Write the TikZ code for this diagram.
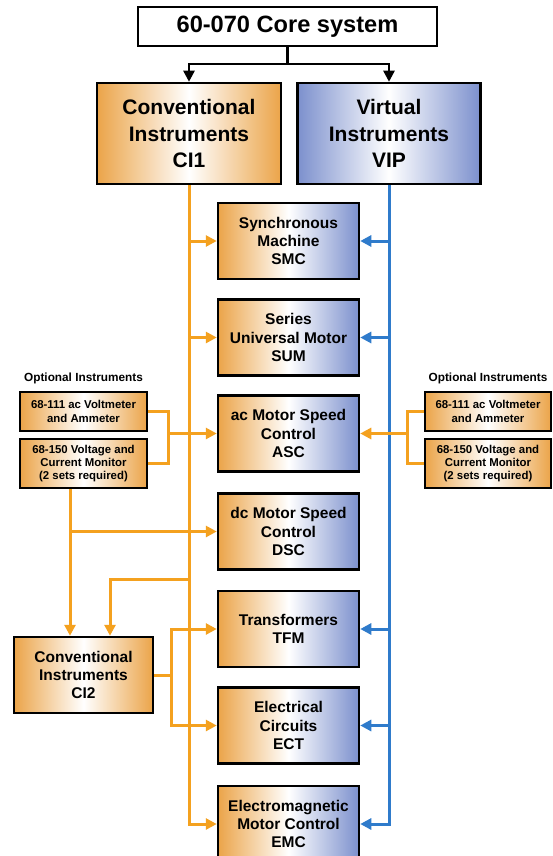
\documentclass[tikz,border=0pt]{standalone}
\usepackage{fontspec}
\setmainfont{Liberation Sans}
\usetikzlibrary{arrows.meta}
\definecolor{ob}{HTML}{EBA449}
\definecolor{bb}{HTML}{7C90CD}
\definecolor{ol}{HTML}{F4A11F}
\definecolor{bl}{HTML}{2F7BCB}
\begin{document}
\begin{tikzpicture}[x=1pt,y=-1pt,
  box/.style={draw=black, line width=2.5pt, align=center, inner sep=0pt},
  obox/.style={box, left color=ob, right color=ob, middle color=white},
  bbox/.style={box, left color=bb, right color=bb, middle color=white},
  mbox/.style={box, left color=ob, right color=bb, middle color=white, minimum width=141pt, minimum height=76pt, font=\fontsize{15.5}{18.3}\selectfont\bfseries},
  optbox/.style={obox, minimum width=127pt, font=\fontsize{11.4}{13.2}\selectfont\bfseries},
  bigbox/.style={minimum width=184pt, minimum height=101pt, font=\fontsize{21}{26.5}\selectfont\bfseries},
  oline/.style={draw=ol, line width=3pt},
  oarr/.style={oline, -{Triangle[length=11pt,width=11pt]}},
  barr/.style={draw=bl, line width=3pt, -{Triangle[length=11pt,width=11pt]}},
  karr/.style={draw=black, line width=2.4pt, -{Triangle[length=11pt,width=11pt]}},
  lbl/.style={font=\fontsize{11.8}{13}\selectfont\bfseries, inner sep=0pt}]
\clip (0,0) rectangle (552,856);
\fill[white] (0,0) rectangle (552,856);

% nodes
\node[box, fill=white, minimum width=299pt, minimum height=39pt, font=\fontsize{23.6}{27}\selectfont\bfseries] (top) at (287.5,26.5) {60-070 Core system};
\node[obox, bigbox] (ci1) at (189,133.5) {Conventional\\Instruments\\CI1};
\node[bbox, bigbox, minimum width=183pt] (vip) at (389,133.5) {Virtual\\Instruments\\VIP};

\node[mbox] (smc) at (288.5,241) {Synchronous\\Machine\\SMC};
\node[mbox] (sum) at (288.5,337.5) {Series\\Universal Motor\\SUM};
\node[mbox] (asc) at (288.5,433.5) {ac Motor Speed\\Control\\ASC};
\node[mbox] (dsc) at (288.5,531.5) {dc Motor Speed\\Control\\DSC};
\node[mbox] (tfm) at (288.5,629) {Transformers\\TFM};
\node[mbox] (ect) at (288.5,725.5) {Electrical\\Circuits\\ECT};
\node[mbox] (emc) at (288.5,824) {Electromagnetic\\Motor Control\\EMC};

\node[lbl] (optl) at (83.5,378) {Optional Instruments};
\node[optbox, minimum height=39pt] (ol1) at (83.5,411.5) {68-111 ac Voltmeter\\and Ammeter};
\node[optbox, minimum height=49pt] (ol2) at (83.5,463.5) {68-150 Voltage and\\Current Monitor\\(2 sets required)};

\node[lbl] (optr) at (488,378) {Optional Instruments};
\node[optbox, minimum width=126pt, minimum height=39pt] (or1) at (488,411.5) {68-111 ac Voltmeter\\and Ammeter};
\node[optbox, minimum width=126pt, minimum height=49pt] (or2) at (488,463.5) {68-150 Voltage and\\Current Monitor\\(2 sets required)};

\node[obox, minimum width=139pt, minimum height=76pt, font=\fontsize{15.5}{18.3}\selectfont\bfseries] (ci2) at (83.5,675) {Conventional\\Instruments\\CI2};

% black connectors
\draw[karr] (top.south) -- ++(0,16.5) -| (ci1.north);
\draw[karr] (top.south) -- ++(0,16.5) -| (vip.north);

% orange main line
\draw[oarr] (ci1.south) |- (smc.west);
\draw[oarr] (ci1.south) |- (sum.west);
\draw[oarr] (ci1.south) |- (emc.west);

% blue main line
\draw[barr] (vip.south) |- (smc.east);
\draw[barr] (vip.south) |- (sum.east);
\draw[barr] (vip.south) |- (tfm.east);
\draw[barr] (vip.south) |- (ect.east);
\draw[barr] (vip.south) |- (emc.east);

% left optional instruments
\coordinate (jl) at (168,433.5);
\draw[oline] (ol1.east) -| (jl) |- (ol2.east);
\draw[oarr] (jl) -- (asc.west);

% right optional instruments
\coordinate (jr) at (407,433.5);
\draw[oline] (or1.west) -| (jr) |- (or2.west);
\draw[oarr] (jr) -- (asc.east);

% 68-150 to DSC and CI2
\coordinate (s1) at ([xshift=-13.5pt]ol2.south);
\draw[oarr] (s1) -- (s1 |- ci2.north);
\draw[oarr] (s1 |- dsc.west) -- (dsc.west);

% main line to CI2
\coordinate (m2) at (189,579);
\draw[oarr] (m2) -| ([xshift=26.5pt]ci2.north);

% CI2 to TFM and ECT
\coordinate (jc) at (171,675);
\draw[oline] (ci2.east) -- (jc);
\draw[oarr] (jc) |- (tfm.west);
\draw[oarr] (jc) |- (ect.west);
\end{tikzpicture}
\end{document}
